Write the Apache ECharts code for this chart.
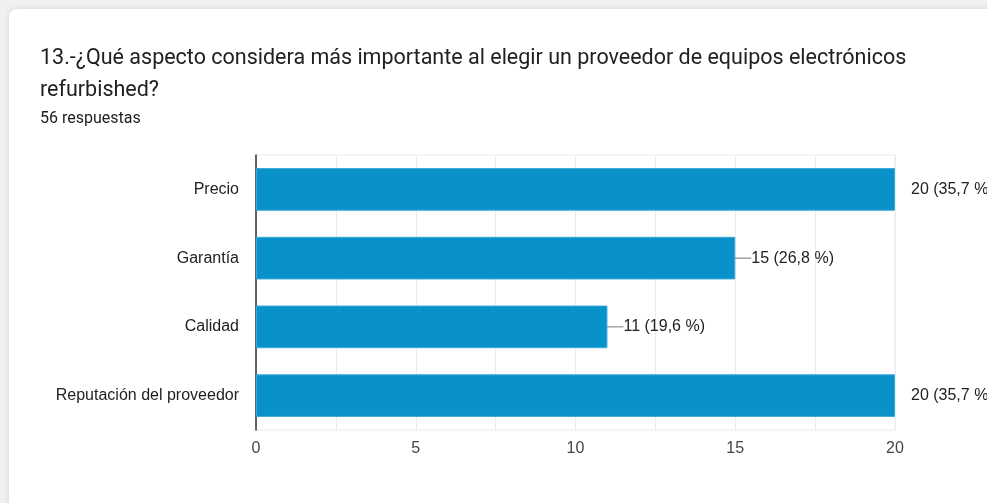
<!DOCTYPE html>
<html>
<head>
<meta charset="utf-8">
<script src="https://cdn.jsdelivr.net/npm/echarts@6/dist/echarts.min.js"></script>
<style>
  html, body { margin: 0; padding: 0; width: 987px; height: 503px; overflow: hidden; background: #f1f1f1; }
  .card { position: absolute; left: 9px; top: 9px; width: 1000px; height: 520px; background: #fff;
          border-radius: 8px; box-shadow: 0 0 6px rgba(0,0,0,0.12); }
  #main { position: absolute; left: 0; top: 0; width: 987px; height: 503px; }
</style>
</head>
<body>
<div class="card"></div>
<div id="main"></div>
<script>
// respuestas por opción
const categories = ['Precio', 'Garantía', 'Calidad', 'Reputación del proveedor'];
const counts = [20, 15, 11, 20];
const percents = [35.7, 26.8, 19.6, 35.7];
const xTicks = [0, 5, 10, 15, 20];
const totalAnswers = 56;

const maxCount = Math.max(...counts);

const chart = echarts.init(document.getElementById('main'));
chart.setOption({
  animation: false,
  title: [{
    text: '13.-¿Qué aspecto considera más importante al elegir un proveedor de equipos electrónicos\nrefurbished?',
    left: 35, top: 38,
    textStyle: { fontFamily: 'Roboto', fontSize: 21.5, fontWeight: 'normal', color: '#202124', lineHeight: 32 }
  }, {
    text: totalAnswers + ' respuestas',
    left: 35, top: 106,
    textStyle: { fontFamily: 'Roboto', fontSize: 16, fontWeight: 'normal', color: '#202124' }
  }],
  grid: { left: 256, right: 92, top: 155, height: 275, show: true, borderColor: '#ebebeb', borderWidth: 1 },
  xAxis: {
    type: 'value',
    min: 0, max: 20, interval: 2.5,
    axisLine: { show: false },
    axisTick: { show: false },
    axisLabel: {
      color: '#444', fontFamily: 'Liberation Sans', fontSize: 16, margin: 11,
      formatter: v => xTicks.includes(v) ? String(v) : ''
    },
    splitLine: { show: true, lineStyle: { color: '#ebebeb', width: 1 } }
  },
  yAxis: {
    type: 'category',
    inverse: true,
    data: categories,
    axisLine: { show: true, lineStyle: { color: '#333', width: 1.5 } },
    axisTick: { show: false },
    axisLabel: { color: '#222', fontFamily: 'Liberation Sans', fontSize: 16, margin: 17 },
    splitLine: { show: false }
  },
  series: [{
    type: 'bar',
    barWidth: '62%',
    data: counts.map(v => ({
      value: v,
      labelLine: { show: v !== maxCount }
    })),
    itemStyle: { color: '#0991c9', borderColor: '#3aa9d9', borderWidth: 1 },
    label: {
      show: true,
      position: 'right',
      distance: 0,
      color: '#222',
      fontFamily: 'Liberation Sans',
      fontSize: 16,
      formatter: p => counts[p.dataIndex] + ' (' + String(percents[p.dataIndex]).replace('.', ',') + ' %)'
    },
    labelLayout: { dx: 16 },
    labelLine: { show: true, lineStyle: { color: '#777', width: 1 } }
  }]
});
</script>
</body>
</html>
